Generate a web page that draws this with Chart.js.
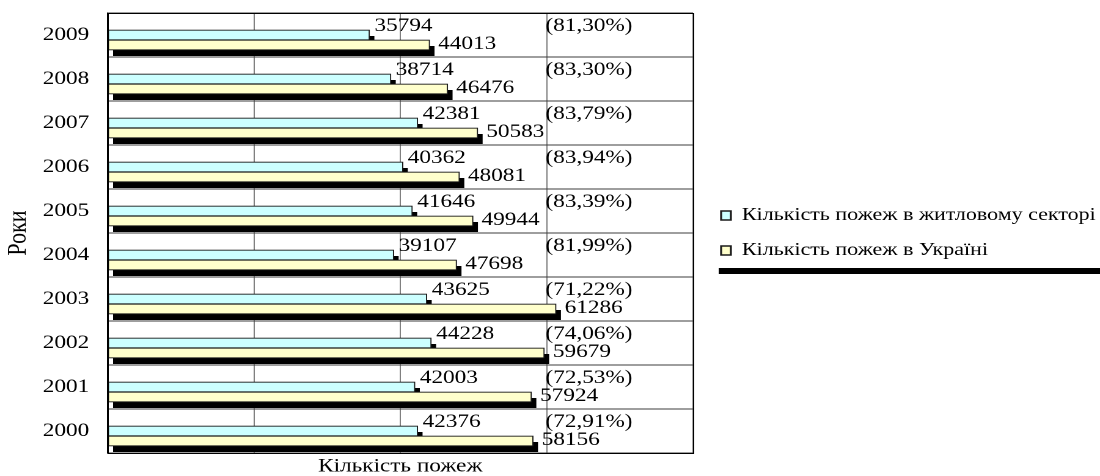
<!DOCTYPE html>
<html>
<head>
<meta charset="utf-8">
<script src="https://cdn.jsdelivr.net/npm/chart.js@4.4.1/dist/chart.umd.min.js"></script>
<style>
  html, body { margin: 0; padding: 0; background: #fff; overflow: hidden; }
  /* the original picture is stretched sideways, so the chart is drawn narrower and widened */
  #wrap { position: absolute; left: 0; top: 0; width: 900px; height: 476px; transform: scaleX(1.2222); transform-origin: 0 0; }
</style>
</head>
<body>
<div id="wrap"><canvas id="chart"></canvas></div>
<script>
const years = ['2000', '2001', '2002', '2003', '2004', '2005', '2006', '2007', '2008', '2009'];
const housingFires = [42376, 42003, 44228, 43625, 39107, 41646, 40362, 42381, 38714, 35794];
const allFires = [58156, 57924, 59679, 61286, 47698, 49944, 48081, 50583, 46476, 44013];
const shares = ['(72,91%)', '(72,53%)', '(74,06%)', '(71,22%)', '(81,99%)', '(83,39%)', '(83,94%)', '(83,79%)', '(83,30%)', '(81,30%)'];
const seriesNames = ['Кількість пожеж в житловому секторі', 'Кількість пожеж в Україні'];

const serif = "'Liberation Serif', 'Times New Roman', serif";
const SHIFT = 5;

// black 3d-ish shadow behind each bar, value labels and shares
const barDecor = {
    id: 'barDecor',
    beforeDatasetsDraw(chart) {
        const ctx = chart.ctx;
        ctx.save();
        ctx.translate(0, SHIFT);
        ctx.fillStyle = '#000';
        chart.data.datasets.forEach((ds, i) => {
            chart.getDatasetMeta(i).data.forEach(bar => {
                const {x, y, base, height} = bar.getProps(['x', 'y', 'base', 'height'], true);
                ctx.fillRect(base + 4, y - height / 2 + 6, x - base, height);
            });
        });
    },
    afterDatasetsDraw(chart) {
        const ctx = chart.ctx;
        ctx.font = '19px ' + serif;
        ctx.fillStyle = '#000';
        ctx.textBaseline = 'middle';
        ctx.textAlign = 'left';
        const x60 = chart.scales.x.getPixelForValue(60000);
        chart.getDatasetMeta(0).data.forEach((bar, i) => {
            ctx.fillText(String(housingFires[i]), bar.x + 4, bar.y - 9);
            ctx.fillText(shares[i], x60 - 1, bar.y - 9);
        });
        chart.getDatasetMeta(1).data.forEach((bar, i) => {
            ctx.fillText(String(allFires[i]), bar.x + 7, bar.y - 1);
        });
        ctx.restore();
    },
    afterDraw(chart) {
        const ctx = chart.ctx;
        const a = chart.chartArea;
        ctx.save();
        ctx.strokeStyle = '#000';
        ctx.lineWidth = 1;
        ctx.strokeRect(Math.round(a.left) + 0.5, Math.round(a.top) + 0.5, Math.round(a.right - a.left), Math.round(a.bottom - a.top));
        const lg = chart.legend;
        const midY = (lg.top + lg.bottom) / 2;
        ctx.fillStyle = '#000';
        ctx.fillRect(lg.left + 15, midY + 35, chart.width, 6);
        ctx.restore();
    }
};

new Chart(document.getElementById('chart'), {
    type: 'bar',
    data: {
        labels: years,
        datasets: [
            {
                label: seriesNames[0],
                data: housingFires,
                backgroundColor: '#ccffff',
                borderColor: '#1a1a1a',
                borderWidth: 1,
                borderSkipped: false,
                barThickness: 10
            },
            {
                label: seriesNames[1],
                data: allFires,
                backgroundColor: '#ffffcc',
                borderColor: '#1a1a1a',
                borderWidth: 1,
                borderSkipped: false,
                barThickness: 10
            }
        ]
    },
    options: {
        indexAxis: 'y',
        responsive: true,
        maintainAspectRatio: false,
        animation: false,
        devicePixelRatio: 2,
        layout: {
            padding: { top: 13, left: 0, right: 0, bottom: 0 }
        },
        scales: {
            x: {
                min: 0,
                max: 80000,
                ticks: { display: false, stepSize: 20000 },
                grid: { color: '#808080', drawTicks: false },
                border: { display: false },
                title: {
                    display: true,
                    text: 'Кількість пожеж',
                    color: '#000',
                    font: { family: serif, size: 19, lineHeight: 1 },
                    padding: { top: 4, bottom: 0 }
                }
            },
            y: {
                reverse: true,
                grid: { color: '#3c3c3c', offset: true, drawTicks: true, tickLength: 15, tickColor: 'rgba(0,0,0,0)' },
                border: { color: '#000' },
                ticks: { color: '#000', padding: 0, font: { family: serif, size: 19 } },
                title: {
                    display: true,
                    text: 'Роки',
                    color: '#000',
                    font: { family: serif, size: 22, lineHeight: 1 },
                    padding: { top: 4, bottom: 9 }
                }
            },
            gap: {
                type: 'linear',
                position: 'right',
                display: true,
                ticks: { display: false },
                grid: { display: false, drawTicks: false },
                border: { display: false },
                afterFit(scale) { scale.width = 6; }
            }
        },
        plugins: {
            legend: {
                position: 'right',
                fullSize: false,
                maxWidth: 327,
                labels: {
                    boxWidth: 8,
                    boxHeight: 9,
                    padding: 17,
                    color: '#000',
                    font: { family: serif, size: 18 },
                    generateLabels: (chart) => {
                        const items = Chart.defaults.plugins.legend.labels.generateLabels(chart);
                        items.forEach(item => { item.lineWidth = 1.6; });
                        return items;
                    }
                }
            },
            tooltip: { enabled: false }
        }
    },
    plugins: [barDecor]
});
</script>
</body>
</html>
